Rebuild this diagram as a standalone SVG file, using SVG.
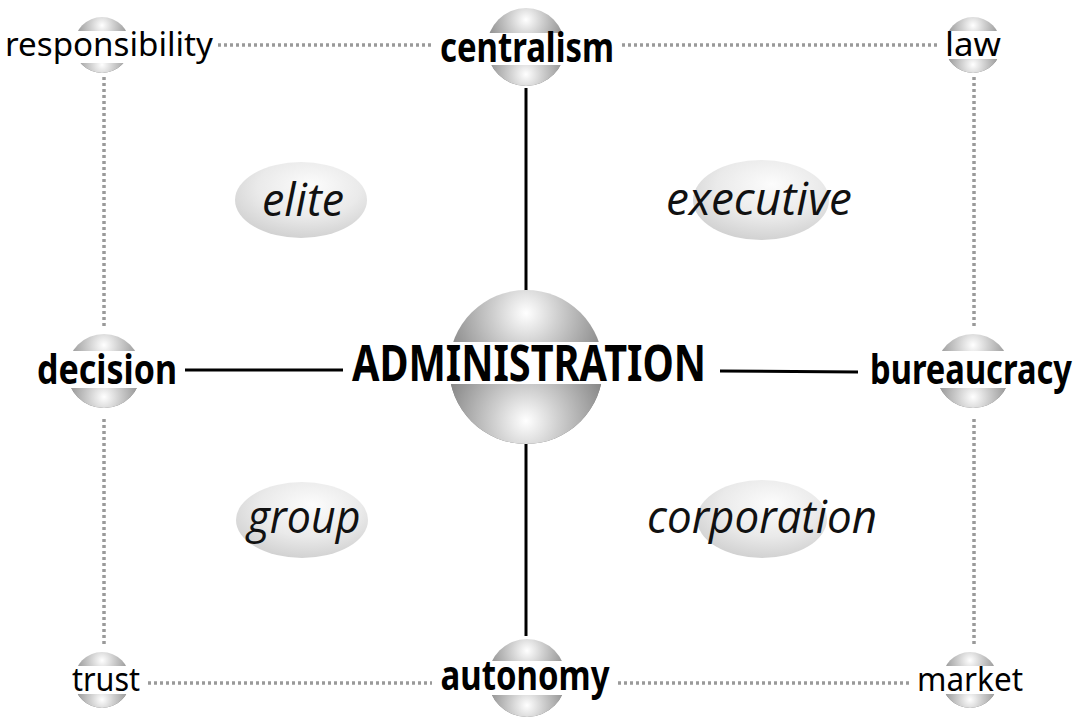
<svg xmlns="http://www.w3.org/2000/svg" width="1086" height="718" viewBox="0 0 1086 718">
<defs>
<radialGradient id="gTop" cx="0.5" cy="0.15" r="0.6" fx="0.5" fy="0.15">
<stop offset="0" stop-color="#ffffff"/>
<stop offset="0.35" stop-color="#cfcfcf"/>
<stop offset="1" stop-color="#7a7a7a"/>
</radialGradient>
<radialGradient id="gBot" cx="0.5" cy="0.85" r="0.6" fx="0.5" fy="0.85">
<stop offset="0" stop-color="#ffffff"/>
<stop offset="0.35" stop-color="#cfcfcf"/>
<stop offset="1" stop-color="#7a7a7a"/>
</radialGradient>
<radialGradient id="gEll" cx="0.55" cy="0.35" r="0.65" fx="0.58" fy="0.3">
<stop offset="0" stop-color="#fcfcfc"/>
<stop offset="0.6" stop-color="#eaeaea"/>
<stop offset="1" stop-color="#d2d2d2"/>
</radialGradient>
<clipPath id="cb1"><rect x="0" y="65" width="1086" height="100"/></clipPath>
<clipPath id="cb2"><rect x="0" y="384" width="1086" height="100"/></clipPath>
<clipPath id="cb3"><rect x="0" y="388" width="1086" height="100"/></clipPath>
<clipPath id="cb4"><rect x="0" y="695" width="1086" height="100"/></clipPath>
<clipPath id="cb5"><rect x="0" y="63" width="1086" height="100"/></clipPath>
<clipPath id="cb6"><rect x="0" y="59" width="1086" height="100"/></clipPath>
<clipPath id="cb7"><rect x="0" y="694" width="1086" height="100"/></clipPath>
</defs>
<style>
.top{fill:url(#gTop)}
.bot{fill:url(#gBot)}
.band{fill:#ffffff}
.ell{fill:url(#gEll)}
.b{font-family:"Noto Sans","Open Sans",sans-serif;font-weight:bold;fill:#000;text-anchor:middle}
.r{font-family:"Noto Sans","Open Sans",sans-serif;fill:#000;text-anchor:middle}
.i{font-family:"Open Sans","Noto Sans",sans-serif;font-style:italic;fill:#111;text-anchor:middle}
.solid{stroke:#000;stroke-width:3;fill:none}
.dot{stroke:#9a9a9a;stroke-width:3.5;stroke-dasharray:3 3;fill:none}
</style>
<g id="connectors">
<line class="dot" x1="218" y1="45" x2="432" y2="45"/>
<line class="dot" x1="622" y1="45" x2="940" y2="45"/>
<line class="dot" x1="104" y1="77" x2="104" y2="326"/>
<line class="dot" x1="104" y1="419" x2="104" y2="646"/>
<line class="dot" x1="974" y1="77" x2="974" y2="326"/>
<line class="dot" x1="974" y1="419" x2="974" y2="646"/>
<line class="dot" x1="148" y1="683" x2="432" y2="683"/>
<line class="dot" x1="618" y1="683" x2="912" y2="683"/>
<line class="solid" x1="526" y1="88" x2="526" y2="291"/>
<line class="solid" x1="526" y1="440" x2="526" y2="636"/>
<line class="solid" x1="185" y1="370" x2="343" y2="370"/>
<line class="solid" x1="720" y1="371" x2="858" y2="372"/>
</g>
<g id="elite"><ellipse class="ell" cx="301" cy="200" rx="66" ry="38"/><text class="i" x="303" y="216" font-size="45" textLength="82" lengthAdjust="spacingAndGlyphs">elite</text></g>
<g id="executive"><ellipse class="ell" cx="761" cy="200" rx="68" ry="40"/><text class="i" x="759" y="215" font-size="45" textLength="186" lengthAdjust="spacingAndGlyphs">executive</text></g>
<g id="group"><ellipse class="ell" cx="302" cy="520" rx="66" ry="38"/><text class="i" x="304" y="533" font-size="45" textLength="113" lengthAdjust="spacingAndGlyphs">group</text></g>
<g id="corporation"><ellipse class="ell" cx="762" cy="519" rx="65" ry="39"/><text class="i" x="762" y="533" font-size="45" textLength="230" lengthAdjust="spacingAndGlyphs">corporation</text></g>
<g id="centralism">
<circle class="top" cx="526" cy="47" r="39"/><circle class="bot" cx="526" cy="47" r="39" clip-path="url(#cb1)"/>
<rect class="band" x="486" y="33" width="80" height="32"/>
<text class="b" x="527" y="62" font-size="42" textLength="174" lengthAdjust="spacingAndGlyphs">centralism</text>
</g>
<g id="administration">
<circle class="top" cx="526" cy="367" r="77"/><circle class="bot" cx="526" cy="367" r="77" clip-path="url(#cb2)"/>
<rect class="band" x="447" y="342" width="158" height="42"/>
<text class="b" x="529" y="381" font-size="51" textLength="354" lengthAdjust="spacingAndGlyphs">ADMINISTRATION</text>
</g>
<g id="decision">
<circle class="top" cx="104" cy="371" r="37"/><circle class="bot" cx="104" cy="371" r="37" clip-path="url(#cb3)"/>
<rect class="band" x="66" y="351" width="76" height="37"/>
<text class="b" x="107" y="384" font-size="42" textLength="140" lengthAdjust="spacingAndGlyphs">decision</text>
</g>
<g id="bureaucracy">
<circle class="top" cx="973" cy="371" r="37"/><circle class="bot" cx="973" cy="371" r="37" clip-path="url(#cb3)"/>
<rect class="band" x="935" y="351" width="76" height="37"/>
<text class="b" x="971" y="384" font-size="42" textLength="202" lengthAdjust="spacingAndGlyphs">bureaucracy</text>
</g>
<g id="autonomy">
<circle class="top" cx="527" cy="678" r="39"/><circle class="bot" cx="527" cy="678" r="39" clip-path="url(#cb4)"/>
<rect class="band" x="487" y="661" width="80" height="34"/>
<text class="b" x="525" y="690" font-size="42" textLength="169" lengthAdjust="spacingAndGlyphs">autonomy</text>
</g>
<g id="responsibility">
<circle class="top" cx="102" cy="45" r="28"/><circle class="bot" cx="102" cy="45" r="28" clip-path="url(#cb5)"/>
<rect class="band" x="73" y="31" width="58" height="32"/>
<text class="r" x="109" y="56" font-size="33" textLength="208" lengthAdjust="spacingAndGlyphs">responsibility</text>
</g>
<g id="law">
<circle class="top" cx="973" cy="45" r="28"/><circle class="bot" cx="973" cy="45" r="28" clip-path="url(#cb6)"/>
<rect class="band" x="944" y="31" width="58" height="28"/>
<text class="r" x="973" y="56" font-size="33" textLength="56" lengthAdjust="spacingAndGlyphs">law</text>
</g>
<g id="trust">
<circle class="top" cx="102" cy="680" r="28"/><circle class="bot" cx="102" cy="680" r="28" clip-path="url(#cb7)"/>
<rect class="band" x="73" y="666" width="58" height="28"/>
<text class="r" x="106" y="691" font-size="33" textLength="68" lengthAdjust="spacingAndGlyphs">trust</text>
</g>
<g id="market">
<circle class="top" cx="970" cy="680" r="28"/><circle class="bot" cx="970" cy="680" r="28" clip-path="url(#cb7)"/>
<rect class="band" x="941" y="666" width="58" height="28"/>
<text class="r" x="970" y="691" font-size="33" textLength="106" lengthAdjust="spacingAndGlyphs">market</text>
</g>
</svg>
